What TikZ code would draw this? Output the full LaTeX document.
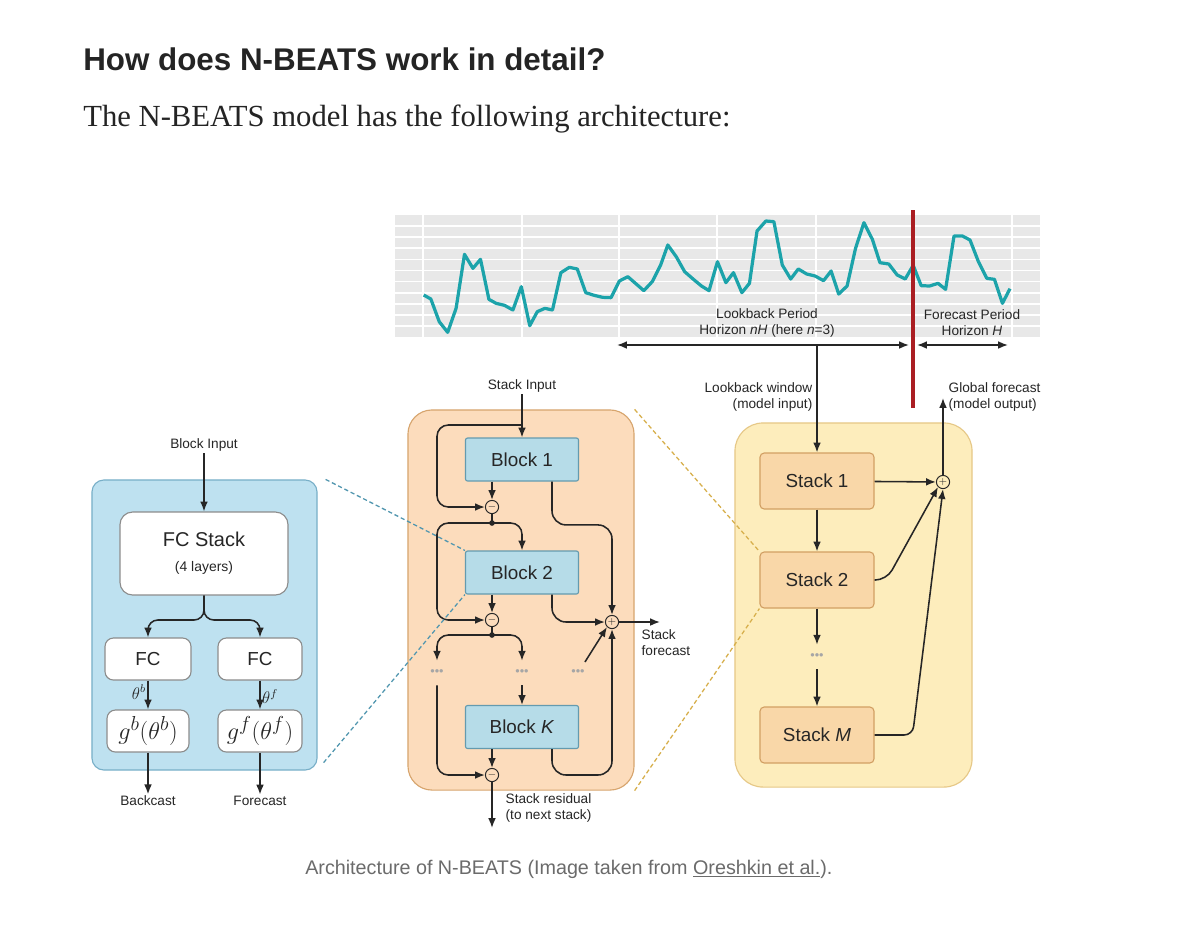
\documentclass[tikz,border=0pt]{standalone}
\usepackage{graphicx}
\usepackage{fontspec}
\setmainfont{Liberation Sans}
\newfontfamily\serifbody{Liberation Serif}
\usetikzlibrary{arrows.meta,calc}

\definecolor{seriesteal}{RGB}{28,163,170}
\definecolor{chartgray}{RGB}{232,232,232}
\definecolor{splitred}{RGB}{170,30,35}
\definecolor{bfill}{RGB}{190,225,240}
\definecolor{bedge}{RGB}{120,175,200}
\definecolor{ofill}{RGB}{252,220,188}
\definecolor{oedge}{RGB}{215,165,110}
\definecolor{blockfill}{RGB}{182,220,232}
\definecolor{blockedge}{RGB}{100,155,175}
\definecolor{yfill}{RGB}{253,237,188}
\definecolor{yedge}{RGB}{230,200,135}
\definecolor{stackfill}{RGB}{249,215,168}
\definecolor{stackedge}{RGB}{210,160,100}
\definecolor{bdashc}{RGB}{80,150,175}
\definecolor{ydashc}{RGB}{215,175,75}
\definecolor{capgray}{RGB}{107,107,107}
\definecolor{titleblk}{RGB}{36,36,36}

\begin{document}
\begin{tikzpicture}[x=0.025cm, y=-0.025cm,
      every node/.style={font=\fontsize{9.7}{11.5}\selectfont, inner sep=1pt, text=black!85},
      arr/.style={-{Latex[length=7pt,width=5.5pt]}, line width=1.1pt, black!85},
      dblarr/.style={{Latex[length=7pt,width=5.5pt]}-{Latex[length=7pt,width=5.5pt]}, line width=1.1pt, black!85},
      container/.style={draw, rounded corners=#1, line width=0.8pt},
      blockbox/.style={draw=blockedge, fill=blockfill, minimum width=2.825cm, minimum height=1.075cm, rounded corners=1.5pt, line width=0.8pt, font=\fontsize{13.4}{16}\selectfont},
      stackbox/.style={draw=stackedge, fill=stackfill, minimum width=2.85cm, minimum height=1.4cm, rounded corners=3pt, line width=0.8pt, font=\fontsize{13.4}{16}\selectfont},
      fcbox/.style={draw=black!45, fill=white, rounded corners=6pt, line width=0.8pt, minimum height=1.05cm, font=\fontsize{13.4}{16}\selectfont},
      opcirc/.style={circle, draw=black!85, line width=0.7pt, minimum size=0.33cm, inner sep=0pt, font=\fontsize{7}{7}\selectfont},
      dotsnode/.style={text=black!35, minimum height=0.6cm, inner sep=0pt, font=\fontsize{9}{9}\selectfont},
      bdash/.style={draw=bdashc, line width=0.9pt, dash pattern=on 3pt off 2pt},
      ydash/.style={draw=ydashc, line width=0.9pt, dash pattern=on 3pt off 2pt}]
  \useasboundingbox (0,0) rectangle (1200,930);
  \fill[white] (0,0) rectangle (1200,930);

  \node[anchor=base west, inner sep=0] (title) at (83,70)
    {\resizebox{13.05cm}{!}{\color{titleblk}\fontsize{22}{26}\selectfont\bfseries How does N-BEATS work in detail?}};
  \node[anchor=base west, inner sep=0] (intro) at (83,126)
    {\resizebox{16.175cm}{!}{\color{titleblk}\serifbody\fontsize{21}{25}\selectfont The N-BEATS model has the following architecture:}};

  % time series
  \fill[chartgray] (395,215) rectangle (1040,337);
  \foreach \k in {1,...,10}
    \draw[white, line width=1.2pt] (395,{215+\k*11.1}) -- (1040,{215+\k*11.1});
  \foreach \x in {423,522,619,717,816,914,1012}
    \draw[white, line width=1.5pt] (\x,215) -- (\x,337);
  \begin{scope}[shift={(390,200)}, xscale=0.4209, yscale=0.3333]
    \draw[seriesteal, line width=2.3pt, line join=round] plot coordinates {
      (80,285) (97,297) (117,365) (137,397) (157,325) (177,163) (197,205) (215,178)
      (235,298) (252,310) (272,316) (292,330) (312,260) (332,377) (350,335) (368,325)
      (386,330) (406,218) (426,202) (445,207) (465,278) (485,286) (505,292) (525,293)
      (545,243) (565,230) (585,252) (603,272) (623,245) (643,195) (660,135) (680,170)
      (700,215) (720,237) (740,258) (758,272) (778,185) (798,248) (816,218) (836,278)
      (854,250) (872,93) (893,63) (912,65) (932,195) (952,237) (970,207) (990,222)
      (1010,228) (1030,242) (1048,213) (1066,282) (1086,258) (1106,145) (1126,68)
      (1146,118) (1164,188) (1185,192) (1205,225) (1224,237) (1243,196) (1262,257)
      (1282,258) (1302,250) (1320,268) (1340,108) (1360,108) (1378,120) (1398,185)
      (1418,235) (1436,238) (1455,310) (1473,266)};
  \end{scope}
  \draw[splitred, line width=2.2pt] (913,210) -- (913,408);

  \node[align=center] (lbtxt) at (767,323) {Lookback Period\\Horizon \textit{nH} (here \textit{n}=3)};
  \node[align=center] (fctxt) at (972,323) {Forecast Period\\Horizon \textit{H}};
  \coordinate (lbl) at (617,345);
  \coordinate (lbr) at (909,345);
  \coordinate (fcl0) at (917,345);
  \coordinate (fcr0) at (1008,345);
  \coordinate (lbtap) at (817,345);
  \draw[dblarr] (lbl) -- (lbr);
  \draw[dblarr] (fcl0) -- (fcr0);

  % containers
  \node[container=0.3cm, draw=bedge, fill=bfill, minimum width=5.625cm, minimum height=7.25cm] (blockbg) at (204.5,625) {};
  \node[container=0.6cm, draw=oedge, fill=ofill, minimum width=5.65cm, minimum height=9.5cm] (stackbg) at (521,600) {};
  \node[container=0.7cm, draw=yedge, fill=yfill, minimum width=5.925cm, minimum height=9.1cm] (modelbg) at (853.5,605) {};

  % block
  \node (binp) at (204,445) {Block Input};
  \node[fcbox, minimum width=4.2cm, minimum height=2.075cm, rounded corners=9pt, align=center, font=\fontsize{14.2}{18}\selectfont] (fcs) at (204,553.5)
    {FC Stack\\{\fontsize{9.9}{12}\selectfont (4 layers)}};
  \node[fcbox, minimum width=2.15cm] (fcl) at (148,659) {FC};
  \node[fcbox, minimum width=2.1cm] (fcr) at (260,659) {FC};
  \node[fcbox, minimum width=2.05cm, font=\fontsize{19}{20}\selectfont] (gl) at (148,731) {$g^b(\theta^b)$};
  \node[fcbox, minimum width=2.1cm, font=\fontsize{19}{20}\selectfont] (gr) at (260,731) {$g^f(\theta^f)$};
  \node (bcast) at (148,801) {Backcast};
  \node (fcast) at (260,801) {Forecast};
  \coordinate (brc) at (204,620);
  \draw[arr] (binp) -- (fcs);
  \draw[arr, rounded corners=7] (fcs.south) |- (brc -| fcl) -- (fcl);
  \draw[arr, rounded corners=7] (fcs.south) |- (brc -| fcr) -- (fcr);
  \draw[arr] (fcl) -- node[left, pos=0.4, font=\fontsize{12}{12}\selectfont] {$\theta^b$} (gl);
  \draw[arr] (fcr) -- node[right, pos=0.55, font=\fontsize{12}{12}\selectfont] {$\theta^f$} (gr);
  \draw[arr] (gl) -- (bcast);
  \draw[arr] (gr) -- (fcast);

  % stack
  \node (sinp) at (522,386) {Stack Input};
  \node[blockbox] (b1) at (522,459.5) {Block 1};
  \node[blockbox] (b2) at (522,572.5) {Block 2};
  \node[blockbox] (bk) at (522,727) {Block \textit{K}};
  \node[opcirc, fill=ofill] (m1) at (492,507) {$-$};
  \node[opcirc, fill=ofill] (m2) at (492,620) {$-$};
  \node[opcirc, fill=ofill] (mk) at (492,775) {$-$};
  \node[opcirc, fill=ofill] (pl) at (612,622) {$+$};
  \node[dotsnode] (d1) at (437,673) {•••};
  \node[dotsnode] (d2) at (522,673) {•••};
  \node[dotsnode] (d3) at (578,673) {•••};
  \coordinate (lpa) at (437,425);
  \coordinate (k1) at (492,523);
  \coordinate (k2) at (492,635);
  \coordinate (sfo) at (660,622);
  \coordinate (sres) at (492,828);
  \draw[arr] (sinp) -- (b1);
  \draw[arr, rounded corners=8] (lpa -| b1) -- (lpa) |- (m1);
  \draw[arr] (b1.south -| m1) -- (m1);
  \draw[arr, rounded corners=10] ($(b1.south)+(30,0)$) |- ($(pl.north)+(0,-90)$) -- (pl.north);
  \draw[line width=1.1pt, black!85] (m1) -- (k1);
  \fill[black!85] (k1) circle (2pt);
  \draw[arr, rounded corners=8] (k1) -| (b2.north);
  \draw[arr, rounded corners=8] (k1) -| (lpa |- m2) -- (m2);
  \draw[arr] (b2.south -| m2) -- (m2);
  \draw[arr, rounded corners=10] ($(b2.south)+(30,0)$) |- (pl);
  \draw[line width=1.1pt, black!85] (m2) -- (k2);
  \fill[black!85] (k2) circle (2pt);
  \draw[arr, rounded corners=8] (k2) -| (d1);
  \draw[arr, rounded corners=8] (k2) -| (d2);
  \draw[arr] (d2) -- (bk);
  \draw[arr, rounded corners=8] (d1) |- (mk);
  \draw[arr] (d3) -- (pl.south west);
  \draw[arr] (bk.south -| mk) -- (mk);
  \draw[arr, rounded corners=10] ($(bk.south)+(30,0)$) |- (pl |- mk) -- (pl.south);
  \draw[arr] (pl) -- (sfo);
  \draw[arr] (mk) -- (sres);
  \node[anchor=north west, align=left] (sfolbl) at (640,628) {Stack\\forecast};
  \node[anchor=north west, align=left] (sreslbl) at (504,792) {Stack residual\\(to next stack)};

  % model
  \node[stackbox] (s1) at (817,481) {Stack 1};
  \node[stackbox] (s2) at (817,580) {Stack 2};
  \node[stackbox] (sm) at (817,735) {Stack \textit{M}};
  \node[dotsnode] (sdots) at (817,657) {•••};
  \node[opcirc, fill=yfill] (pl2) at (943,482) {$+$};
  \node[anchor=north east, align=right] (lwin) at (814,381) {Lookback window\\(model input)};
  \node[anchor=north west, align=left] (gfor) at (947,381) {Global forecast\\(model output)};
  \coordinate (gout) at (943,398);
  \draw[arr] (lbtap) -- (s1);
  \draw[arr] (s1) -- (s2);
  \draw[arr] (s2) -- (sdots);
  \draw[arr] (sdots) -- (sm);
  \draw[arr] (s1) -- (pl2);
  \draw[arr, rounded corners=8] (s2.east) -- ++(12,0) -- (pl2.south west);
  \draw[arr, rounded corners=6] (sm.east) -- ++(38,0) -- (pl2.south);
  \draw[arr] (pl2) -- (gout);

  % zoom lines
  \draw[bdash] ($(blockbg.north east)+(8,0)$) -- (b2.north west);
  \draw[bdash] ($(blockbg.south east)+(6,-8)$) -- (b2.south west);
  \draw[ydash] (stackbg.north east) -- (s2.north west);
  \draw[ydash] (stackbg.south east) -- (s2.south west);

  \node[anchor=base west, inner sep=0] (cap) at (305,874)
    {\resizebox{13.175cm}{!}{\color{capgray}\fontsize{13}{16}\selectfont Architecture of N-BEATS (Image taken from \underline{Oreshkin et al.}).}};
\end{tikzpicture}
\end{document}
